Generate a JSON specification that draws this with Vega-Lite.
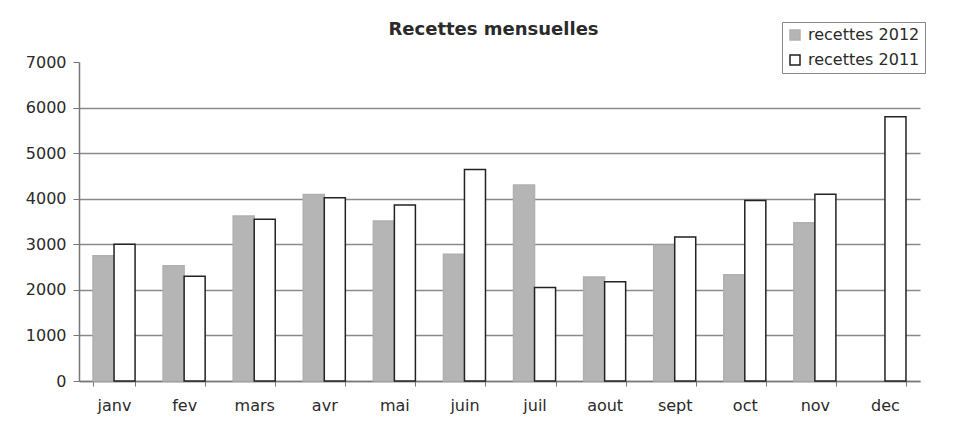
{
  "$schema": "https://vega.github.io/schema/vega-lite/v6.json",
  "width": 841,
  "height": 319,
  "autosize": {"type": "none"},
  "padding": {"left": 79, "top": 62, "right": 40, "bottom": 46},
  "background": "white",
  "config": {
    "view": {"stroke": null},
    "font": "DejaVu Sans"
  },
  "title": {
    "text": "Recettes mensuelles",
    "fontSize": 18,
    "fontWeight": "bold",
    "font": "DejaVu Sans",
    "color": "#2a2a2a",
    "anchor": "middle",
    "dx": -6,
    "offset": -17
  },
  "data": {
    "values": [
      {"mois": "janv", "serie": "recettes 2012", "valeur": 2750},
      {"mois": "janv", "serie": "recettes 2011", "valeur": 3000},
      {"mois": "fev", "serie": "recettes 2012", "valeur": 2530},
      {"mois": "fev", "serie": "recettes 2011", "valeur": 2300},
      {"mois": "mars", "serie": "recettes 2012", "valeur": 3620},
      {"mois": "mars", "serie": "recettes 2011", "valeur": 3550},
      {"mois": "avr", "serie": "recettes 2012", "valeur": 4090},
      {"mois": "avr", "serie": "recettes 2011", "valeur": 4020},
      {"mois": "mai", "serie": "recettes 2012", "valeur": 3510},
      {"mois": "mai", "serie": "recettes 2011", "valeur": 3860},
      {"mois": "juin", "serie": "recettes 2012", "valeur": 2780},
      {"mois": "juin", "serie": "recettes 2011", "valeur": 4640},
      {"mois": "juil", "serie": "recettes 2012", "valeur": 4300},
      {"mois": "juil", "serie": "recettes 2011", "valeur": 2050},
      {"mois": "aout", "serie": "recettes 2012", "valeur": 2280},
      {"mois": "aout", "serie": "recettes 2011", "valeur": 2180},
      {"mois": "sept", "serie": "recettes 2012", "valeur": 2980},
      {"mois": "sept", "serie": "recettes 2011", "valeur": 3160},
      {"mois": "oct", "serie": "recettes 2012", "valeur": 2330},
      {"mois": "oct", "serie": "recettes 2011", "valeur": 3960},
      {"mois": "nov", "serie": "recettes 2012", "valeur": 3470},
      {"mois": "nov", "serie": "recettes 2011", "valeur": 4100},
      {"mois": "dec", "serie": "recettes 2011", "valeur": 5800}
    ]
  },
  "mark": {"type": "bar", "strokeWidth": 1.5},
  "encoding": {
    "x": {
      "field": "mois",
      "type": "nominal",
      "sort": ["janv", "fev", "mars", "avr", "mai", "juin", "juil", "aout", "sept", "oct", "nov", "dec"],
      "scale": {"paddingInner": 0.4, "paddingOuter": 0.2},
      "axis": {
        "title": null,
        "labelAngle": 0,
        "labelFontSize": 16,
        "labelColor": "#2a2a2a",
        "labelPadding": 11,
        "tickBand": "extent",
        "tickColor": "#777",
        "tickSize": 5,
        "domainColor": "#777",
        "domainWidth": 1.5
      }
    },
    "xOffset": {
      "field": "serie",
      "type": "nominal",
      "sort": ["recettes 2012", "recettes 2011"],
      "scale": {"domain": ["recettes 2012", "recettes 2011"]}
    },
    "y": {
      "field": "valeur",
      "type": "quantitative",
      "scale": {"domain": [0, 7000], "nice": false},
      "axis": {
        "title": null,
        "values": [0, 1000, 2000, 3000, 4000, 5000, 6000, 7000],
        "format": "d",
        "labelFontSize": 16,
        "labelColor": "#2a2a2a",
        "labelPadding": 7,
        "tickColor": "#777",
        "tickSize": 6,
        "domainColor": "#777",
        "domainWidth": 1.5,
        "grid": true,
        "gridColor": "#8a8a8a",
        "gridWidth": 1.3,
        "gridOpacity": {"condition": {"test": "datum.value === 7000", "value": 0}, "value": 1}
      }
    },
    "fill": {
      "field": "serie",
      "type": "nominal",
      "scale": {"domain": ["recettes 2012", "recettes 2011"], "range": ["#b5b5b5", "#ffffff"]},
      "legend": {
        "title": null,
        "orient": "none",
        "legendX": 703,
        "legendY": -40,
        "symbolType": "square",
        "symbolSize": 100,
        "symbolStrokeWidth": 1.5,
        "labelFontSize": 16,
        "labelColor": "#2a2a2a",
        "labelLimit": 300,
        "labelOffset": 5,
        "rowPadding": 9,
        "padding": 5,
        "strokeColor": "#888",
        "fillColor": "white"
      }
    },
    "stroke": {
      "field": "serie",
      "type": "nominal",
      "scale": {"domain": ["recettes 2012", "recettes 2011"], "range": ["#b0b0b0", "#222222"]},
      "legend": {
        "title": null,
        "orient": "none",
        "legendX": 703,
        "legendY": -40,
        "symbolType": "square",
        "symbolSize": 100,
        "labelFontSize": 16,
        "labelColor": "#2a2a2a",
        "labelLimit": 300,
        "labelOffset": 5,
        "rowPadding": 9,
        "padding": 5,
        "strokeColor": "#888",
        "fillColor": "white"
      }
    }
  }
}
